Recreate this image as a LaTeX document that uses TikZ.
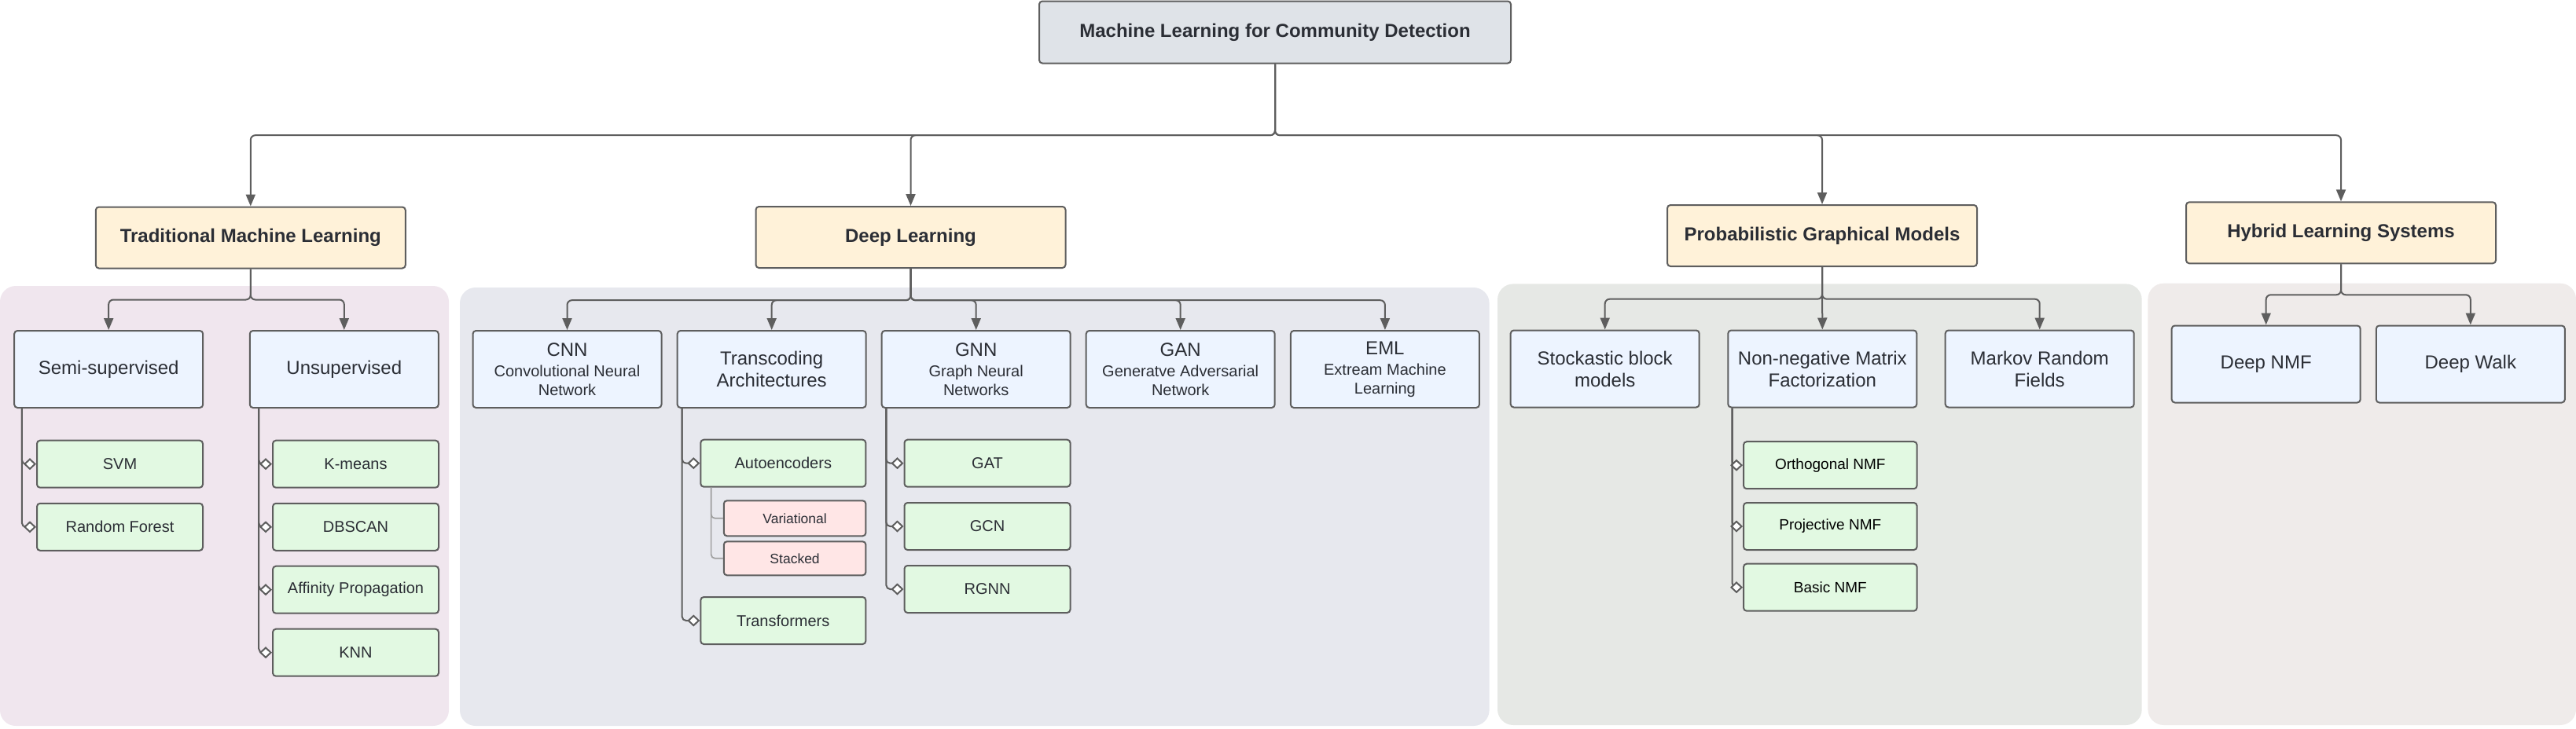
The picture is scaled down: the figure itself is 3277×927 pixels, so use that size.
\documentclass[tikz,border=0pt]{standalone}
\usepackage{fontspec}
\setmainfont{Liberation Sans}
\usetikzlibrary{arrows.meta}
\definecolor{bord}{HTML}{5E5E5E}
\definecolor{textc}{HTML}{2B2E35}
\definecolor{rootfill}{HTML}{DFE3E8}
\definecolor{catfill}{HTML}{FFF2D9}
\definecolor{subfill}{HTML}{EDF4FF}
\definecolor{leaffill}{HTML}{E2F9E2}
\definecolor{pinkfill}{HTML}{FFE6E6}
\definecolor{panelA}{HTML}{F0E6EE}
\definecolor{panelB}{HTML}{E7E8EE}
\definecolor{panelC}{HTML}{E6E8E5}
\definecolor{panelD}{HTML}{EFEBEA}
\definecolor{subline}{HTML}{A0A0A0}
\tikzset{
  box/.style={draw=bord, line width=2pt, rounded corners=4pt, align=center, text=textc, inner sep=2pt},
  rootbox/.style={box, fill=rootfill, minimum width=600pt, minimum height=79pt, font=\bfseries\fontsize{24}{28}\selectfont},
  catbox/.style={box, fill=catfill, minimum width=394pt, minimum height=78pt, font=\bfseries\fontsize{24}{28}\selectfont},
  subbox/.style={box, fill=subfill, minimum width=240pt, minimum height=98pt, font=\fontsize{24}{28}\selectfont},
  acrobox/.style={box, fill=subfill, minimum width=240pt, minimum height=98pt, font=\fontsize{20}{24}\selectfont},
  leafbox/.style={box, fill=leaffill, minimum width=211pt, minimum height=60pt, font=\fontsize{20}{24}\selectfont},
  nmfleaf/.style={box, fill=leaffill, minimum width=220.6pt, minimum height=60pt, text=black, font=\fontsize{19}{23}\selectfont},
  pinkbox/.style={box, fill=pinkfill, minimum width=180.6pt, font=\fontsize{17.5}{21}\selectfont},
  conn/.style={draw=bord, line width=2pt, rounded corners=6pt, -{Triangle[length=15pt,width=12pt]}},
  leafc/.style={draw=bord, line width=2pt, rounded corners=5pt, -{Diamond[length=16pt,width=15pt,fill=white]}},
  subc/.style={draw=subline, line width=1.7pt, rounded corners=5pt},
  panel/.style={rounded corners=20pt}
}
\newcommand{\acro}[1]{{\fontsize{24}{28}\selectfont #1}\\[2pt]}
\begin{document}
\begin{tikzpicture}[x=1pt,y=-1pt]
\useasboundingbox (0,0) rectangle (3277,927);
% panels
\fill[panelA, panel] (0,364) rectangle (571,924);
\fill[panelB, panel] (585,366) rectangle (1894.6,924);
\fill[panelC, panel] (1905,361.4) rectangle (2724.7,923);
\fill[panelD, panel] (2732.4,360.7) rectangle (3277,923);
% root and categories
\node[rootbox] (root) at (1622,41) {Machine Learning for Community Detection};
\node[catbox] (tml) at (318.8,302.5) {Traditional Machine Learning};
\node[catbox] (dl) at (1158.5,302) {Deep Learning};
\node[catbox] (pgm) at (2318,300) {Probabilistic Graphical Models};
\node[catbox] (hls) at (2978,296.3) {Hybrid Learning Systems};
% level 2
\node[subbox] (semi) at (138.2,470) {Semi-supervised};
\node[subbox] (unsup) at (437.8,470) {Unsupervised};
\node[acrobox] (cnn) at (721.5,470) {\acro{CNN}Convolutional Neural\\Network};
\node[subbox] (trans) at (981.7,470) {Transcoding\\Architectures};
\node[acrobox] (gnn) at (1241.7,470) {\acro{GNN}Graph Neural\\Networks};
\node[acrobox] (gan) at (1501.7,470) {\acro{GAN}Generatve Adversarial\\Network};
\node[acrobox] (eml) at (1761.9,470) {\acro{EML}Extream Machine\\Learning};
\node[subbox] (stock) at (2041.7,469.5) {Stockastic block\\models};
\node[subbox] (nmf) at (2318.3,469.5) {Non-negative Matrix\\Factorization};
\node[subbox] (markov) at (2594.7,469.5) {Markov Random\\Fields};
\node[subbox] (dnmf) at (2882.7,463.5) {Deep NMF};
\node[subbox] (dwalk) at (3142.8,463.5) {Deep Walk};
% leaves
\node[leafbox] (svm) at (152.5,590.7) {SVM};
\node[leafbox] (rf) at (152.5,670.8) {Random Forest};
\node[leafbox] (kmeans) at (452.5,590.7) {K-means};
\node[leafbox] (dbscan) at (452.5,670.8) {DBSCAN};
\node[leafbox] (affinity) at (452.5,750.7) {Affinity Propagation};
\node[leafbox] (knn) at (452.5,830.7) {KNN};
\node[leafbox, minimum width=210pt] (auto) at (996.3,589.7) {Autoencoders};
\node[pinkbox, minimum height=45pt] (var) at (1011.1,659.8) {Variational};
\node[pinkbox, minimum height=43pt] (stacked) at (1011.1,710.8) {Stacked};
\node[leafbox, minimum width=210pt] (trf) at (996.3,790) {Transformers};
\node[leafbox] (gat) at (1256,589.7) {GAT};
\node[leafbox] (gcn) at (1256,670) {GCN};
\node[leafbox] (rgnn) at (1256,750) {RGNN};
\node[nmfleaf] (orth) at (2328.3,592.2) {Orthogonal NMF};
\node[nmfleaf] (proj) at (2328.3,670) {Projective NMF};
\node[nmfleaf] (basic) at (2328.3,747.7) {Basic NMF};
% trunk
\draw[conn] (root.south) -- ++(0,90.7) -| (tml.north);
\draw[conn] (root.south) -- ++(0,90.7) -| (dl.north);
\draw[conn] (root.south) -- ++(0,90.7) -| (pgm.north);
\draw[conn] (root.south) -- ++(0,90.7) -| (hls.north);
% category branches
\draw[conn] (tml.south) -- ++(0,39) -| (semi.north);
\draw[conn] (tml.south) -- ++(0,39) -| (unsup.north);
\draw[conn] (dl.south) -- ++(0,40.2) -| (cnn.north);
\draw[conn] (dl.south) -- ++(0,40.2) -| (trans.north);
\draw[conn] (dl.south) -- ++(0,40.2) -| (gnn.north);
\draw[conn] (dl.south) -- ++(0,40.2) -| (gan.north);
\draw[conn] (dl.south) -- ++(0,40.2) -| (eml.north);
\draw[conn] (pgm.south) -- ++(0,40.7) -| (stock.north);
\draw[conn] (pgm.south) -- (nmf.north);
\draw[conn] (pgm.south) -- ++(0,40.7) -| (markov.north);
\draw[conn] (hls.south) -- ++(0,39) -| (dnmf.north);
\draw[conn] (hls.south) -- ++(0,39) -| (dwalk.north);
% leaf connectors
\draw[leafc] ([xshift=10.7pt]semi.south west) |- (svm.west);
\draw[leafc] ([xshift=10.7pt]semi.south west) |- (rf.west);
\draw[leafc] ([xshift=12.4pt]unsup.south west) |- (kmeans.west);
\draw[leafc] ([xshift=12.4pt]unsup.south west) |- (dbscan.west);
\draw[leafc] ([xshift=12.4pt]unsup.south west) |- (affinity.west);
\draw[leafc] ([xshift=12.4pt]unsup.south west) |- (knn.west);
\draw[leafc] ([xshift=7pt]trans.south west) |- (auto.west);
\draw[leafc] ([xshift=7pt]trans.south west) |- (trf.west);
\draw[subc] ([xshift=14.3pt]auto.south west) |- (var.west);
\draw[subc] ([xshift=14.3pt]auto.south west) |- (stacked.west);
\draw[leafc] ([xshift=6.7pt]gnn.south west) |- (gat.west);
\draw[leafc] ([xshift=6.7pt]gnn.south west) |- (gcn.west);
\draw[leafc] ([xshift=6.7pt]gnn.south west) |- (rgnn.west);
\draw[leafc] ([xshift=6.4pt]nmf.south west) |- (orth.west);
\draw[leafc] ([xshift=6.4pt]nmf.south west) |- (proj.west);
\draw[leafc] ([xshift=6.4pt]nmf.south west) |- (basic.west);
\end{tikzpicture}
\end{document}
